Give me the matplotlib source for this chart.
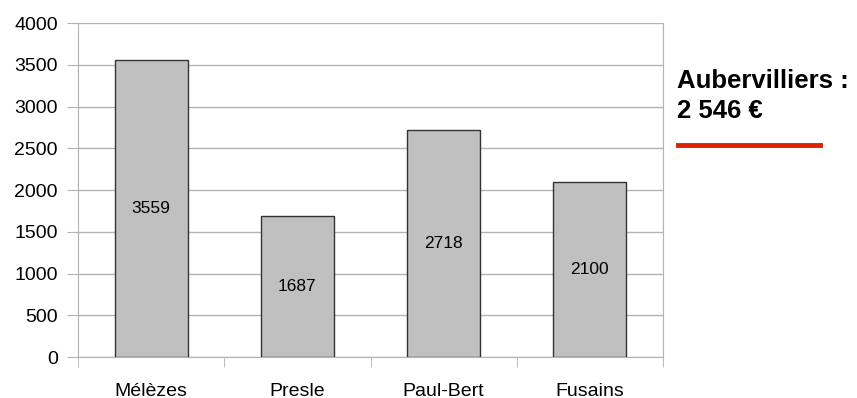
import matplotlib
matplotlib.use("Agg")
import matplotlib.pyplot as plt
from matplotlib.ticker import FixedLocator, NullFormatter

plt.rcParams['font.family'] = ['Liberation Sans', 'DejaVu Sans']

quartiers = ["Mélèzes", "Presle", "Paul-Bert", "Fusains"]
revenus = [3559, 1687, 2718, 2100]
y_ticks = [0, 500, 1000, 1500, 2000, 2500, 3000, 3500, 4000]
reference_label = "Aubervilliers :\n2 546 €"

fig = plt.figure(figsize=(8.57, 3.98), dpi=100)
ax = fig.add_axes([78 / 857, 41 / 398, 585 / 857, 334 / 398])

x = list(range(len(quartiers)))
bars = ax.bar(x, revenus, width=0.5, color="#c0c0c0", edgecolor="#333333",
              linewidth=1.0, zorder=3)
for xi, v in zip(x, revenus):
    ax.text(xi, v / 2, str(v), ha="center", va="center", fontsize=12.5,
            color="black", zorder=4)

ax.set_xlim(-0.5, len(quartiers) - 0.5)
ax.set_ylim(0, 4000)
ax.set_yticks(y_ticks)
ax.set_yticklabels([str(t) for t in y_ticks], fontsize=14)
ax.yaxis.grid(True, color="#b3b3b3", linewidth=1.0, zorder=0)
ax.tick_params(axis="y", length=8, color="#b3b3b3", pad=6.5)

# category labels centred, tick marks on the category boundaries
ax.set_xticks(x)
ax.set_xticklabels(quartiers, fontsize=14)
ax.tick_params(axis="x", which="major", length=0, pad=18.5)
ax.xaxis.set_minor_locator(FixedLocator([i - 0.5 for i in range(len(quartiers) + 1)]))
ax.xaxis.set_minor_formatter(NullFormatter())
ax.tick_params(axis="x", which="minor", length=7.2, color="#b3b3b3")

for side in ["left", "right", "bottom", "top"]:
    ax.spines[side].set_color("#b3b3b3")
ax.spines["top"].set_visible(False)

fig.text(677 / 857, 1 - 96 / 398, reference_label, fontsize=18.5, fontweight="bold",
         ha="left", va="center", linespacing=1.3)
fig.add_artist(plt.Line2D([678 / 857, 820 / 857], [1 - 145 / 398, 1 - 145 / 398],
                          color="#dd2200", linewidth=3.5, transform=fig.transFigure))

fig.savefig("out.png", dpi=100)
